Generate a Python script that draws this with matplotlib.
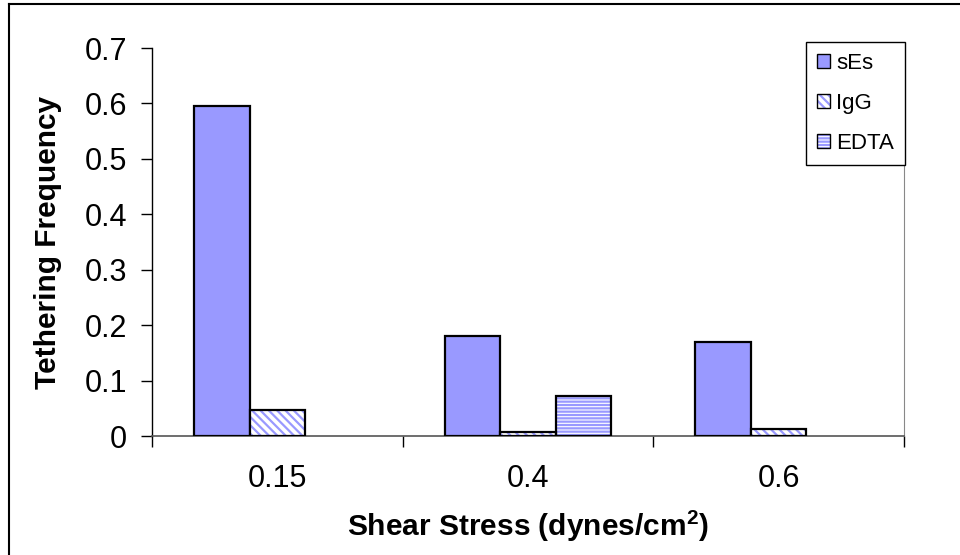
import numpy as np
import matplotlib
matplotlib.use("Agg")
import matplotlib.pyplot as plt
from matplotlib.patches import Patch
from matplotlib.legend_handler import HandlerTuple
from matplotlib.lines import Line2D

plt.rcParams['font.family'] = ['Liberation Sans', 'DejaVu Sans']
plt.rcParams['mathtext.fontset'] = 'custom'
plt.rcParams['mathtext.rm'] = 'Liberation Sans'
plt.rcParams['mathtext.bf'] = 'Liberation Sans:bold'
plt.rcParams['hatch.linewidth'] = 1.6

# datos
categorias = ['0.15', '0.4', '0.6']
series = ['sEs', 'IgG', 'EDTA']
ses = [0.595, 0.181, 0.169]
igg = [0.047, 0.007, 0.012]
edta = [0.0, 0.072, 0.0]

azul = '#9999FF'
fig = plt.figure(figsize=(9.6, 5.55), dpi=100)
ax = fig.add_axes([152/960, 1-436/555, (904-152)/960, (436-48)/555])

x = np.arange(len(categorias))
w = 0.222

# sEs: relleno liso
ax.bar(x - w, ses, w, color=azul, edgecolor='black', linewidth=1.6, zorder=3)
# IgG y EDTA: rayado azul sobre blanco, borde negro aparte (sin borde si vale 0)
for off, vals, h in [(0, igg, '\\\\\\\\'), (w, edta, '-----')]:
    ax.bar(x + off, vals, w, color='white', edgecolor=azul, hatch=h, linewidth=0, zorder=3)
    ax.bar(x + off, vals, w, fill=False, edgecolor='black',
           linewidth=[1.6 if v > 0 else 0 for v in vals], zorder=4)

ax.set_xlim(-0.5, 2.5)
ax.set_ylim(0, 0.7)
ax.set_yticks(np.arange(0, 0.71, 0.1))
ax.set_yticklabels(['0', '0.1', '0.2', '0.3', '0.4', '0.5', '0.6', '0.7'])
ax.set_xticks(x)
ax.set_xticklabels(categorias)
ax.set_xticks([-0.5, 0.5, 1.5, 2.5], minor=True)
ax.tick_params(axis='x', which='major', length=0, pad=20, labelsize=22)
ax.tick_params(axis='x', which='minor', length=8, width=1, color='black')
ax.tick_params(axis='y', length=8, width=1, labelsize=22, pad=10)

ax.spines['top'].set_visible(False)
ax.spines['right'].set_color('#888888')
ax.spines['left'].set_linewidth(1)
ax.spines['bottom'].set_color('#555555')
ax.spines['bottom'].set_linewidth(1.2)

ax.set_ylabel('Tethering Frequency', fontsize=21.5, fontweight='bold', labelpad=16)
ax.set_xlabel(r'Shear Stress (dynes/cm$^{\mathbf{2}}$)', fontsize=21.5, fontweight='bold', labelpad=10)

# leyenda
h_ses = Patch(facecolor=azul, edgecolor='black', linewidth=1)
h_igg = (Patch(facecolor='white', edgecolor=azul, hatch='\\\\\\\\', linewidth=0),
         Patch(fill=False, edgecolor='black', linewidth=1))
h_edta = (Patch(facecolor='white', edgecolor=azul, hatch='-----', linewidth=0),
          Patch(fill=False, edgecolor='black', linewidth=1))
leg = ax.legend([h_ses, h_igg, h_edta], series, loc='upper right',
                bbox_to_anchor=(905/960, 1-42/555), bbox_transform=fig.transFigure,
                handler_map={tuple: HandlerTuple(ndivide=1, pad=0)},
                fontsize=16, handlelength=0.6, handleheight=0.6, handletextpad=0.25,
                labelspacing=0.85, borderpad=0.5, borderaxespad=0, fancybox=False,
                framealpha=1, edgecolor='black')
leg.get_frame().set_linewidth(1)

# marco exterior del gráfico
fig.add_artist(Line2D([9/960, 9/960], [0, 1-4/555], color='black', linewidth=1.5))
fig.add_artist(Line2D([9/960, 1], [1-4/555, 1-4/555], color='black', linewidth=1.5))

fig.savefig('out.png', dpi=100)
